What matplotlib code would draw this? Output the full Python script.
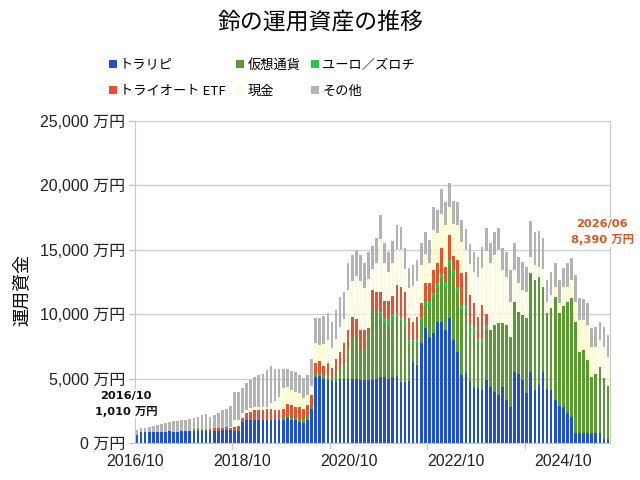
import matplotlib
matplotlib.use("Agg")
import matplotlib.pyplot as plt
from matplotlib.patches import Patch
from matplotlib.ticker import FuncFormatter, FixedLocator
import numpy as np
import pandas as pd

plt.rcParams['font.family'] = ['Noto Sans CJK JP', 'DejaVu Sans']

months = pd.date_range('2016-10-01', periods=117, freq='MS').strftime('%Y/%m').tolist()

torapi = [600,830,830,830,850,850,880,880,900,880,880,900,900,900,
          920,950,950,950,950,950,950,980,1000,1000,
          900,950,1650,1780,1780,1780,1780,1780,1780,1780,1780,1780,1780,1910,1780,1780,1650,1530,1780,2610,
          5150,5200,5000,4900,4800,4850,4950,5000,5000,5000,4950,4900,4900,4900,
          4900,4950,5100,5100,5000,5100,5200,4760,4760,4840,
          6310,6050,7740,8900,8250,8510,9410,9410,8770,9670,7990,7090,5280,5410,4830,4370,4240,4110,4890,
          4370,3980,3720,4370,3340,2770,5530,5350,4890,3850,5530,4110,4500,5530,4170,4110,3340,2870,2820,2300,2000,
          800,800,800,800,800,800,800,290,290]
crypto = [0]*14 + [150,200,150,100] + [0]*6 + \
         [50,50,100,70,70,70,70,70,70,120,120,120,170,190,220,170,200,370,320,290,
          310,250,300,300,200,650,1100,1200,2220,3150,3350,2300,2320,3740,
          5420,5250,4800,4200,4200,4600,4500,4740,4440,2860,
          1390,1750,1760,1700,2350,2790,2590,3390,3330,4130,5010,4610,5020,4890,3820,4130,3460,3490,3910,
          4400,5180,5570,4980,5820,5480,5430,4840,5040,5820,7690,8540,8360,6550,5890,6340,7970,7190,7810,8660,9230,
          8610,6290,6420,5640,4350,4550,5120,4730,4130]
euro = [0]*60 + [300,400,400,300,400,300,350,300,300,300,300,350,350,350,400,400,400,400,400,400,
                 400,400,400,400,400,400,350] + [0]*30
etf = [0]*18 + [150,200,200,220,250,150] + \
      [300,300,160,450,580,710,710,710,760,710,660,660,660,930,950,870,920,710,850,820,
       720,900,700,980,800,1050,1040,1540,1550,1650,1300,1570,1550,260,
       1580,1500,1500,1300,1400,1400,2200,2330,2190,1670,
       1410,1700,1040,1440,1440,1780,1540,1910,1180,1940,1110,2100,2470,2590,2440,1940,1700,2710,850] + [0]*30
cash = [0]*23 + [100] + \
       [500,500,400,300,250,250,250,260,210,490,670,1030,1630,1340,1160,1160,1080,860,770,700,
        1560,1250,1700,1820,1600,1550,1910,1860,3130,2800,3400,3830,3230,3800,
        1600,2300,4100,3000,2300,2600,2700,2870,1760,2330,
        2790,2800,2960,2310,1610,3070,2360,2690,3220,2160,2490,2700,2430,1710,2410,2460,3100,2890,4900,
        5170,5430,5690,4080,3740,2710,2470,2200,1940,2070,1240,1160,800,1420,900,1040,820,780,1500,1170,1420,
        1550,2450,2320,2720,2320,2120,2070,2450,2280]
other = [410,320,370,420,450,530,570,670,700,820,820,850,900,950,
         880,850,1050,1200,
         900,1050,1200,1350,1390,1620,
         2230,2180,1960,2030,2210,2340,2470,2530,2840,2870,2510,2150,1500,1370,1500,1550,1430,1550,1560,2070,
         1930,2070,2160,2110,2010,2220,2350,2140,2040,1990,1980,1990,1940,2100,
         1800,1900,1900,1500,1500,1700,1900,1740,1610,1560,
         1610,1600,1700,1700,1750,1840,1780,1890,1830,1850,1800,1830,1700,1580,1540,1550,1510,1590,1760,
         1560,1810,1680,1680,1950,2470,2070,2070,2200,1940,2790,2590,2820,2380,1690,1800,1810,1810,1430,1810,1680,
         2080,1690,1610,1680,1430,1560,1420,1560,1690]

series_names = ['トラリピ', '仮想通貨', 'ユーロ／ズロチ', 'トライオート ETF', '現金', 'その他']
series_vals = [torapi, crypto, euro, etf, cash, other]
colors = ['#1f4fd6', '#5b9a30', '#22c84a', '#e8512a', '#fdfcd6', '#b3b3b3']

tick_labels = ['2016/10', '2018/10', '2020/10', '2022/10', '2024/10']

fig = plt.figure(figsize=(6.4, 4.8), dpi=100)
ax = fig.add_axes([135/640, 1-443/480, 475/640, 322/480])

x = np.arange(len(months))
bottom = np.zeros(len(months))
for name, vals, c in zip(series_names, series_vals, colors):
    v = np.array(vals, dtype=float)
    ax.bar(x, v, bottom=bottom, width=0.66, color=c, linewidth=0, label=name, zorder=2)
    bottom += v

ax.set_xlim(-0.5, len(months) - 0.5)
ax.set_ylim(0, 25000)
ax.set_yticks(np.arange(0, 25001, 5000))
ax.yaxis.set_major_formatter(FuncFormatter(lambda v, p: f"{v:,.0f} 万円"))
ax.grid(axis='y', color='#cccccc', linewidth=0.9, zorder=0)
ax.set_axisbelow(True)

# x ticks: marks every 24 months, labels spaced as in the reference
tick_idx = [months.index(t) for t in tick_labels]
ax.xaxis.set_minor_locator(FixedLocator([i - 0.5 for i in tick_idx]))
label_pos = [k * 26.35 - 0.5 for k in range(len(tick_labels))]
ax.set_xticks(label_pos)
ax.set_xticklabels(tick_labels)
ax.tick_params(axis='x', which='major', length=0, pad=8)
ax.tick_params(axis='x', which='minor', length=4, color='#bbbbbb')
ax.tick_params(axis='y', length=4, color='#bbbbbb', pad=3)
for lab in ax.get_yticklabels() + ax.get_xticklabels():
    lab.set_family(['Liberation Sans', 'Noto Sans CJK JP'])
    lab.set_fontsize(11.5)
    lab.set_color('#222222')

for s in ['left', 'bottom', 'right']:
    ax.spines[s].set_color('#c8c8c8')
ax.spines['top'].set_visible(False)

totals = bottom
ax.annotate(f"{months[0]}\n{totals[0]:,.0f} 万円", xy=(0, totals[0]), xytext=(-8, 19),
            textcoords='offset points', ha='center', va='center', fontsize=8.2,
            fontweight='bold', family=['DejaVu Sans', 'Noto Sans CJK JP'], color='#111111',
            linespacing=1.55, bbox=dict(fc='white', ec='none', pad=1), zorder=5)
ax.annotate(f"{months[-1]}\n{totals[-1]:,.0f} 万円", xy=(len(months) - 1, totals[-1]), xytext=(-4, 74),
            textcoords='offset points', ha='center', va='center', fontsize=8.2,
            fontweight='bold', family=['DejaVu Sans', 'Noto Sans CJK JP'], color='#e0531f',
            linespacing=1.55, bbox=dict(fc='white', ec='none', pad=1), zorder=5, annotation_clip=False)

fig.text(22/640, 1-290/480, '運用資金', rotation=90, ha='center', va='center', fontsize=13)
fig.text(0.5, 1-22/480, '鈴の運用資産の推移', ha='center', va='center', fontsize=16.5)

handles = [Patch(facecolor=c, edgecolor='none') for c in colors]
order = [0, 3, 1, 4, 2, 5]
fig.legend([handles[i] for i in order], [series_names[i] for i in order],
           loc='center', bbox_to_anchor=(262/640, 1-78/480), ncol=3, frameon=False,
           fontsize=9.5, handlelength=0.6, handleheight=0.6, handletextpad=0.25,
           columnspacing=0.8, labelspacing=1.0, borderpad=0)

fig.savefig('out.png', dpi=100)
